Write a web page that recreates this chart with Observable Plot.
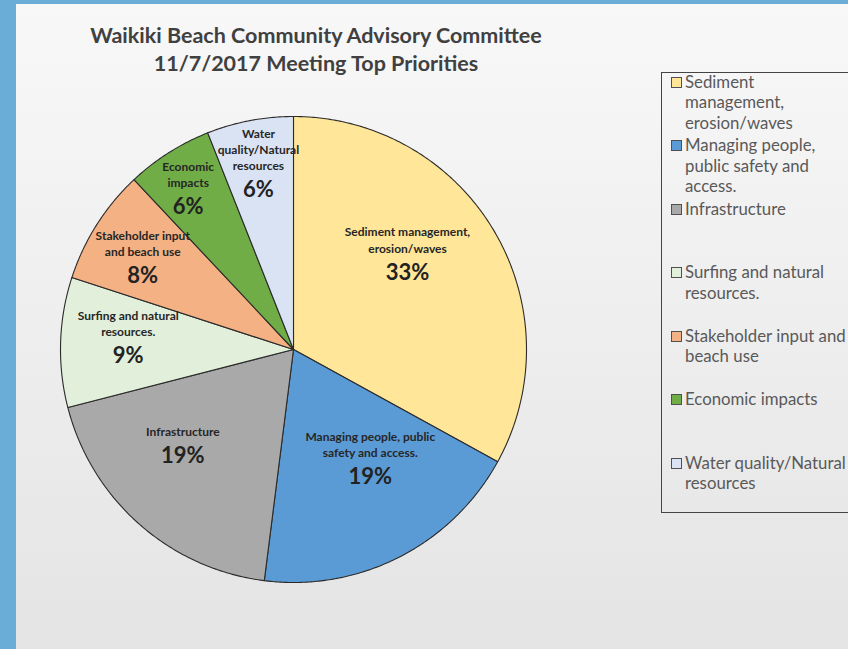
<!DOCTYPE html>
<html>
<head>
<meta charset="utf-8">
<script src="https://cdn.jsdelivr.net/npm/d3@7"></script>
<script src="https://cdn.jsdelivr.net/npm/@observablehq/plot@0.6"></script>
<style>
html, body { margin: 0; padding: 0; }
#wrap { position: relative; width: 848px; height: 649px; overflow: hidden;
  background: linear-gradient(180deg, #f8f8f8 0%, #efefef 45%, #e4e4e4 100%);
  font-family: Lato, "Open Sans", sans-serif; }
#barL { position: absolute; left: 0; top: 0; width: 16px; height: 649px; background: #6aaed8; }
#barT { position: absolute; left: 0; top: 0; width: 848px; height: 4px; background: #6aaed8; }
#title { position: absolute; left: 0; top: 21px; width: 632px; text-align: center; font-weight: 700;
  font-size: 21.5px; line-height: 28px; color: #404040; }
#chart { position: absolute; left: 0; top: 0; }
#legendBox { position: absolute; left: 661px; top: 72px; width: 220px; height: 441px;
  border: 1.5px solid #444; box-sizing: border-box; }
.item { position: absolute; left: 685px; font-size: 16.8px; line-height: 20.5px; color: #595959; white-space: pre-line; }
.sw { position: absolute; left: 671px; width: 9px; height: 9px; border: 1px solid #505050; }
</style>
</head>
<body>
<div id="wrap">
  <div id="barL"></div>
  <div id="barT"></div>
  <div id="title">Waikiki Beach Community Advisory Committee<br>11/7/2017 Meeting Top Priorities</div>
  <div id="chart"></div>
  <div id="legendBox"></div>
</div>
<script>
// ---- data ----
const categories = [
  "Sediment management, erosion/waves",
  "Managing people, public safety and access.",
  "Infrastructure",
  "Surfing and natural resources.",
  "Stakeholder input and beach use",
  "Economic impacts",
  "Water quality/Natural resources"
];
const shares = [33, 19, 19, 9, 8, 6, 6];
const sliceLabels = [
  "Sediment management,\nerosion/waves",
  "Managing people, public\nsafety and access.",
  "Infrastructure",
  "Surfing and natural\nresources.",
  "Stakeholder input\nand beach use",
  "Economic\nimpacts",
  "Water\nquality/Natural\nresources"
];
const legendLabels = [
  "Sediment\nmanagement,\nerosion/waves",
  "Managing people,\npublic safety and\naccess.",
  "Infrastructure",
  "Surfing and natural\nresources.",
  "Stakeholder input and\nbeach use",
  "Economic impacts",
  "Water quality/Natural\nresources"
];
const colors = ["#ffe699", "#5b9bd5", "#a9a9a9", "#e2efda", "#f4b183", "#70ad47", "#dae3f3"];

// ---- layout (not data) ----
const labelRadius = [0.59, 0.64, 0.66, 0.71, 0.72, 0.76, 0.70];
const labelAngleShift = [-3.4, -4, 4.6, -4.2, -6.4, -4.1, -1.6];
const cx = 293, cy = 349, R = 233;

const arcs = d3.pie().sort(null).value(d => d)(shares);
const pts = [];
arcs.forEach((a, i) => {
  pts.push({k: categories[i], x: 0, y: 0});
  const n = Math.max(2, Math.ceil((a.endAngle - a.startAngle) / (Math.PI / 360)));
  for (let j = 0; j <= n; j++) {
    const t = a.startAngle + (a.endAngle - a.startAngle) * j / n;
    pts.push({k: categories[i], x: Math.sin(t), y: Math.cos(t)});
  }
  pts.push({k: categories[i], x: 0, y: 0});
});
const labels = arcs.map((a, i) => {
  const t = (a.startAngle + a.endAngle) / 2 + labelAngleShift[i] * Math.PI / 180;
  const r = labelRadius[i];
  return {x: r * Math.sin(t), y: r * Math.cos(t), name: sliceLabels[i], pct: shares[i] + "%"};
});

const chart = Plot.plot({
  width: 848, height: 649,
  style: {background: "transparent", overflow: "visible"},
  x: {domain: [-1, 1], range: [cx - R, cx + R], axis: null},
  y: {domain: [-1, 1], range: [cy + R, cy - R], axis: null},
  color: {domain: categories, range: colors},
  marks: [
    Plot.line(pts, {x: "x", y: "y", z: "k", fill: "k", stroke: "#2b2b2b", strokeWidth: 1.1, strokeLinejoin: "round"}),
    Plot.text(labels, {x: "x", y: "y", text: "name", lineAnchor: "bottom", dy: -20, fontSize: 12, fontWeight: 700,
      lineHeight: 1.35, fill: "#262626", fontFamily: "Lato"}),
    Plot.text(labels, {x: "x", y: "y", text: "pct", fontSize: 22, fontWeight: 700, fill: "#222", fontFamily: "Lato"})
  ]
});
document.getElementById("chart").appendChild(chart);

// legend
const wrap = document.getElementById("wrap");
legendLabels.forEach((lab, i) => {
  const yc = 82 + 63.5 * i;
  const sw = document.createElement("div");
  sw.className = "sw";
  sw.style.top = (yc - 5.5) + "px";
  sw.style.background = colors[i];
  wrap.appendChild(sw);
  const t = document.createElement("div");
  t.className = "item";
  t.style.top = (yc - 10.25) + "px";
  t.textContent = lab;
  wrap.appendChild(t);
});
</script>
</body>
</html>
